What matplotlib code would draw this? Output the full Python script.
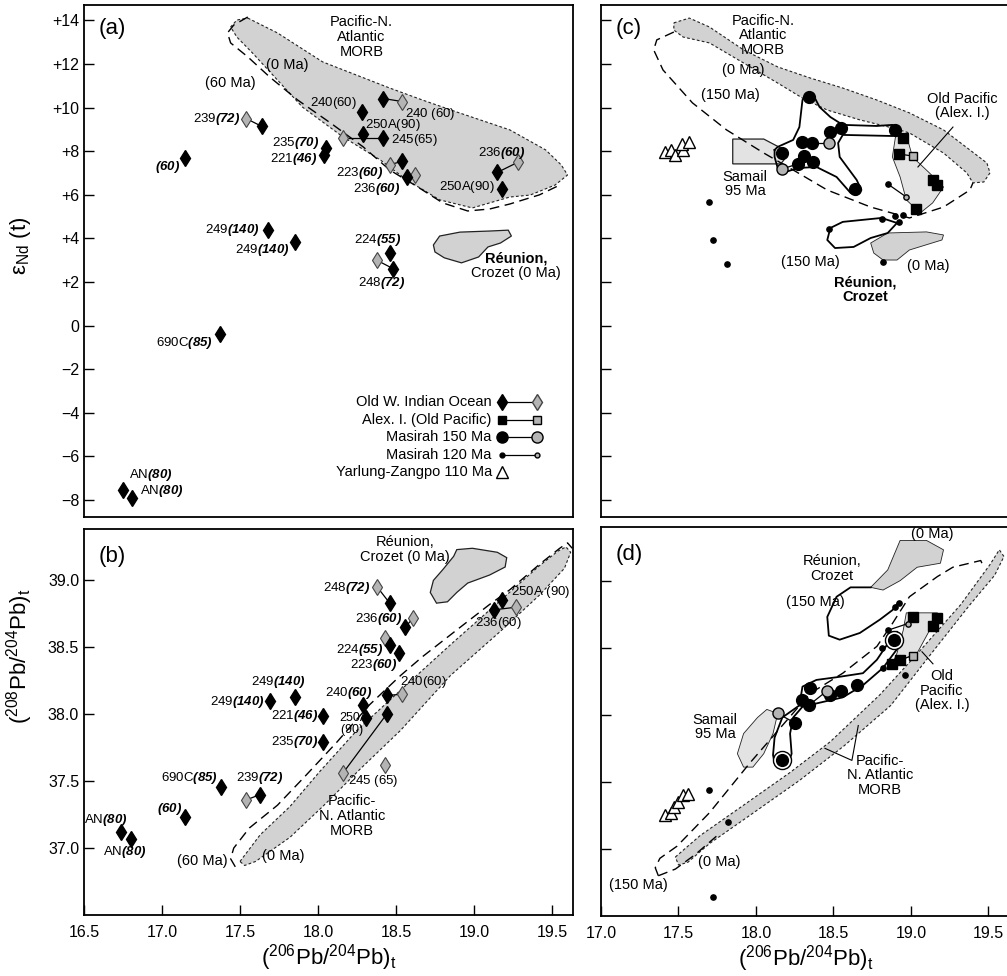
import matplotlib.pyplot as plt

plt.rcParams['font.family'] = 'Liberation Sans'
plt.rcParams['mathtext.fontset'] = 'custom'
plt.rcParams['mathtext.rm'] = 'Liberation Sans'
plt.rcParams['mathtext.it'] = 'Liberation Sans:italic'
plt.rcParams['mathtext.bf'] = 'Liberation Sans:bold'
try:
    plt.rcParams['mathtext.bfit'] = 'Liberation Sans:italic:bold'
except KeyError:
    pass
plt.rcParams['axes.linewidth'] = 1.3
plt.rcParams['xtick.direction'] = 'in'
plt.rcParams['ytick.direction'] = 'in'
plt.rcParams['xtick.major.size'] = 7
plt.rcParams['ytick.major.size'] = 7
plt.rcParams['xtick.major.width'] = 1.0
plt.rcParams['ytick.major.width'] = 1.0
plt.rcParams['xtick.labelsize'] = 11.5
plt.rcParams['ytick.labelsize'] = 11.5

#########################################
#                 data                  #
#########################################
# --- panel (a): eNd vs 206Pb/204Pb, Old W. Indian Ocean ---
a_black_x = [18.42, 18.28, 17.64, 17.15, 18.05, 18.04, 18.29, 18.42, 18.54, 18.57,
             19.15, 19.18, 17.68, 17.85, 18.46, 18.48, 17.37, 16.75, 16.81]
a_black_y = [10.42, 9.78, 9.14, 7.67, 8.17, 7.81, 8.77, 8.63, 7.53, 6.80,
             7.03, 6.29, 4.37, 3.82, 3.31, 2.62, -0.40, -7.56, -7.93]
a_gray_x = [18.54, 17.54, 18.16, 18.46, 18.62, 19.28, 18.38]
a_gray_y = [10.28, 9.50, 8.63, 7.39, 6.89, 7.49, 2.99]
a_ties = [(0, 0), (2, 1), (7, 2), (8, 3), (9, 4), (10, 5), (15, 6)]

a_morb_x = [17.55, 17.74, 18.03, 18.46, 18.67, 18.89, 19.23, 19.46, 19.56, 19.60, 19.52, 19.36,
            19.23, 18.99, 18.78, 18.57, 18.40, 18.16, 17.90, 17.74, 17.58, 17.48, 17.44, 17.48]
a_morb_y = [14.11, 13.43, 12.10, 10.90, 10.35, 9.80, 8.98, 8.06, 7.37, 6.91, 6.45, 5.99,
            5.90, 5.40, 5.77, 6.68, 7.60, 8.66, 10.03, 11.27, 12.51, 13.24, 13.70, 14.02]
a_env_x = [17.55, 17.46, 17.42, 17.44, 17.55, 17.69, 17.87, 18.08, 18.29, 18.46, 18.64,
           18.80, 18.96, 19.10, 19.23, 19.42, 19.55]
a_env_y = [14.16, 13.79, 13.43, 12.97, 12.33, 11.41, 10.35, 9.30, 8.20, 7.14, 6.36,
           5.63, 5.26, 5.35, 5.58, 6.00, 6.45]
a_reu_x = [18.74, 18.78, 18.91, 19.10, 19.22, 19.24, 19.17, 19.09, 19.03, 18.92, 18.81, 18.75]
a_reu_y = [3.70, 4.11, 4.29, 4.34, 4.38, 4.11, 3.79, 3.61, 3.15, 2.88, 3.11, 3.38]

a_labels = [
    (18.56, 9.71, '240 ', '60', False, 'left'),
    (18.25, 10.22, '240', '60', False, 'right'),
    (18.30, 9.21, '250A', '90', False, 'left'),
    (18.47, 8.52, '245', '65', False, 'left'),
    (17.50, 9.48, '239', '72', True, 'right'),
    (17.115, 7.28, '', '60', True, 'right'),
    (18.006, 8.36, '235', '70', True, 'right'),
    (17.994, 7.66, '221', '46', True, 'right'),
    (18.417, 7.00, '223', '60', True, 'right'),
    (18.526, 6.27, '236', '60', True, 'right'),
    (19.026, 7.92, '236', '60', True, 'left'),
    (19.135, 6.36, '250A', '90', False, 'right'),
    (17.628, 4.39, '249', '140', True, 'right'),
    (17.821, 3.47, '249', '140', True, 'right'),
    (18.385, 3.93, '224', '55', True, 'center'),
    (18.41, 1.96, '248', '72', True, 'center'),
    (17.327, -0.79, '690C', '85', True, 'right'),
    (16.79, -6.86, 'AN', '80', True, 'left'),
    (16.86, -7.60, 'AN', '80', True, 'left'),
]

legend_names = ['Old W. Indian Ocean', 'Alex. I. (Old Pacific)', 'Masirah 150 Ma',
                'Masirah 120 Ma', 'Yarlung-Zangpo 110 Ma']

# --- panel (b): 208Pb/204Pb vs 206Pb/204Pb ---
b_black_x = [18.46, 18.56, 18.46, 18.52, 17.85, 17.69, 18.44, 18.29, 18.03, 18.31,
             18.44, 18.03, 17.38, 17.63, 17.15, 16.74, 16.80, 19.18, 19.13]
b_black_y = [38.83, 38.65, 38.52, 38.46, 38.13, 38.10, 38.14, 38.07, 37.99, 37.97,
             38.00, 37.79, 37.46, 37.40, 37.23, 37.12, 37.07, 38.85, 38.78]
b_gray_x = [18.38, 18.61, 18.43, 18.54, 18.16, 18.43, 17.54, 19.27]
b_gray_y = [38.95, 38.72, 38.57, 38.15, 37.56, 37.62, 37.36, 38.80]
b_ties = [(0, 0), (1, 1), (2, 2), (6, 3), (10, 4), (13, 6), (18, 7)]

b_morb_x = [17.50, 17.63, 17.82, 18.01, 18.25, 18.53, 18.85, 19.17, 19.42, 19.54, 19.59,
            19.62, 19.58, 19.42, 19.17, 18.85, 18.53, 18.27, 18.03, 17.82, 17.60, 17.53]
b_morb_y = [36.90, 37.10, 37.31, 37.57, 37.88, 38.18, 38.52, 38.85, 39.11, 39.22, 39.25,
            39.21, 39.09, 38.89, 38.62, 38.29, 37.88, 37.59, 37.31, 37.08, 36.90, 36.87]
b_env_x = [17.47, 17.44, 17.46, 17.56, 17.74, 17.92, 18.12, 18.33, 18.53, 18.67, 18.89,
           19.10, 19.23, 19.42, 19.55, 19.60, 19.63]
b_env_y = [36.86, 36.92, 37.00, 37.15, 37.32, 37.54, 37.79, 38.07, 38.29, 38.43, 38.63,
           38.82, 38.93, 39.12, 39.24, 39.28, 39.24]
b_reu_x = [18.72, 18.74, 18.80, 18.87, 18.89, 18.99, 19.15, 19.21, 19.20, 19.10, 18.96,
           18.89, 18.83, 18.76]
b_reu_y = [38.91, 39.00, 39.08, 39.18, 39.23, 39.24, 39.21, 39.17, 39.10, 39.04, 38.98,
           38.91, 38.84, 38.83]

b_labels = [
    (18.333, 38.94, '248', '72', True, 'right'),
    (18.538, 38.71, '236', '60', True, 'right'),
    (18.417, 38.48, '224', '55', True, 'right'),
    (18.506, 38.37, '223', '60', True, 'right'),
    (17.744, 38.24, '249', '140', True, 'center'),
    (17.660, 38.09, '249', '140', True, 'right'),
    (18.346, 38.16, '240', '60', True, 'right'),
    (18.526, 38.24, '240', '60', False, 'left'),
    (18.00, 37.99, '221', '46', True, 'right'),
    (18.00, 37.79, '235', '70', True, 'right'),
    (18.192, 37.50, '245 ', '65', False, 'left'),
    (17.359, 37.52, '690C', '85', True, 'right'),
    (17.628, 37.52, '239', '72', True, 'center'),
    (17.128, 37.29, '', '60', True, 'right'),
    (16.782, 37.21, 'AN', '80', True, 'right'),
    (16.622, 36.97, 'AN', '80', True, 'left'),
    (19.237, 38.91, '250A ', '90', False, 'left'),
    (19.006, 38.68, '236', '60', False, 'left'),
]

# --- panel (c): eNd vs 206Pb/204Pb, Tethyan / Pacific ---
c_morb_x = [17.47, 17.57, 17.70, 17.92, 18.14, 18.35, 18.56, 18.78, 18.99, 19.21, 19.38, 19.49,
            19.51, 19.47, 19.40, 19.36, 19.21, 18.99, 18.88, 18.67, 18.46, 18.30, 18.14, 17.92,
            17.70, 17.53, 17.47]
c_morb_y = [13.89, 14.11, 13.70, 12.65, 11.87, 11.36, 10.90, 10.35, 9.76, 8.98, 8.06, 7.46,
            7.01, 6.59, 6.55, 7.01, 7.92, 8.84, 9.07, 9.44, 9.89, 10.44, 11.13, 12.05,
            12.97, 13.24, 13.56]
c_env_x = [17.47, 17.36, 17.34, 17.40, 17.59, 17.81, 18.05, 18.24, 18.46, 18.74, 18.99,
           19.21, 19.38, 19.40]
c_env_y = [13.47, 13.11, 12.65, 11.73, 10.22, 8.98, 7.92, 7.14, 6.22, 5.44, 4.94,
           5.44, 6.22, 6.55]
c_samail_x = [17.85, 18.05, 18.16, 18.19, 18.16, 17.85]
c_samail_y = [8.56, 8.56, 8.15, 7.69, 7.42, 7.42]
c_m150_env_x = [18.12, 18.14, 18.24, 18.28, 18.30, 18.33, 18.37, 18.41, 18.48, 18.56, 18.78,
                18.88, 18.93, 18.93, 18.88, 18.56, 18.53, 18.54, 18.65, 18.68, 18.65, 18.61,
                18.52, 18.39, 18.27, 18.17, 18.14, 18.12]
c_m150_env_y = [8.06, 8.20, 8.52, 9.11, 10.35, 10.67, 10.58, 10.03, 9.57, 9.21, 9.16,
                9.21, 9.07, 8.84, 8.70, 8.75, 8.38, 7.74, 6.68, 6.22, 6.00, 6.09,
                6.82, 7.28, 7.23, 7.00, 7.23, 7.74]
c_op_x = [18.90, 18.97, 19.01, 19.12, 19.21, 19.14, 19.06, 18.97, 18.93, 18.88]
c_op_y = [8.66, 8.75, 7.74, 7.00, 6.36, 5.63, 5.17, 5.77, 6.82, 7.74]
c_m120_env_x = [18.81, 18.56, 18.48, 18.46, 18.51, 18.63, 18.74, 18.85, 18.91]
c_m120_env_y = [4.94, 4.76, 4.48, 3.93, 3.56, 3.61, 4.02, 4.25, 4.71]
c_reu_x = [18.74, 18.85, 19.10, 19.21, 19.20, 18.99, 18.91, 18.82, 18.76]
c_reu_y = [3.79, 4.25, 4.30, 4.16, 3.93, 3.47, 3.01, 3.01, 3.33]

c_m150_x = [18.34, 18.30, 18.36, 18.48, 18.55, 18.17, 18.31, 18.37, 18.27, 18.64, 18.90]
c_m150_y = [10.49, 8.43, 8.38, 8.89, 9.07, 7.92, 7.78, 7.51, 7.42, 6.27, 8.98]
c_m150g_x = [18.47, 18.17]
c_m150g_y = [8.38, 7.19]
c_m150_ties = [(2, 0), (8, 1)]
c_alex_x = [18.95, 18.92, 19.14, 19.17, 19.03]
c_alex_y = [8.61, 7.88, 6.68, 6.45, 5.35]
c_alexg_x = [19.01]
c_alexg_y = [7.78]
c_alex_ties = [(1, 0)]
c_m120_x = [18.85, 18.81, 18.90, 18.95, 18.92, 18.47, 18.82, 17.70, 17.72, 17.81]
c_m120_y = [6.50, 4.89, 5.03, 5.08, 4.76, 4.44, 2.92, 5.67, 3.93, 2.83]
c_m120g_x = [18.97]
c_m120g_y = [5.90]
c_m120_ties = [(0, 0)]
c_yz_x = [17.41, 17.45, 17.48, 17.53, 17.52, 17.57]
c_yz_y = [7.97, 8.06, 7.83, 8.06, 8.33, 8.43]
c_lead_x = [19.045, 19.271]
c_lead_y = [7.28, 9.11]

# --- panel (d): 208Pb/204Pb vs 206Pb/204Pb, Tethyan / Pacific ---
d_morb_x = [17.48, 17.64, 17.90, 18.22, 18.48, 18.80, 19.06, 19.32, 19.51, 19.57, 19.60,
            19.54, 19.38, 19.12, 18.87, 18.57, 18.28, 17.96, 17.70, 17.56, 17.50]
d_morb_y = [36.94, 37.10, 37.31, 37.57, 37.80, 38.15, 38.48, 38.82, 39.12, 39.23, 39.18,
            39.04, 38.82, 38.44, 38.07, 37.77, 37.51, 37.25, 37.04, 36.90, 36.88]
d_env_x = [17.37, 17.35, 17.38, 17.49, 17.70, 17.96, 18.14, 18.35, 18.56, 18.78, 18.88,
           18.99, 19.17, 19.27, 19.45, 19.47]
d_env_y = [36.80, 36.86, 36.93, 37.02, 37.27, 37.64, 37.88, 38.16, 38.31, 38.51, 38.68,
           38.88, 39.03, 39.10, 39.15, 39.10]
d_env2_x = [17.37, 17.48, 17.61, 17.77]
d_env2_y = [36.80, 36.85, 36.96, 37.12]
d_reu_x = [18.74, 18.85, 18.93, 19.10, 19.21, 19.19, 19.04, 18.93, 18.82]
d_reu_y = [38.95, 39.08, 39.30, 39.30, 39.23, 39.13, 39.10, 39.00, 38.93]
d_m120_env_x = [18.74, 18.61, 18.52, 18.46, 18.47, 18.54, 18.67, 18.80, 18.88, 18.92]
d_m120_env_y = [38.95, 38.95, 38.88, 38.73, 38.59, 38.56, 38.61, 38.71, 38.78, 38.84]
d_op_x = [18.97, 19.17, 19.20, 19.12, 19.04, 18.88, 18.91, 18.95]
d_op_y = [38.76, 38.76, 38.71, 38.63, 38.46, 38.38, 38.46, 38.63]
d_m150_env_x = [18.87, 18.91, 18.94, 18.93, 18.82, 18.69, 18.56, 18.41, 18.30, 18.24, 18.22,
                18.23, 18.21, 18.17, 18.12, 18.11, 18.12, 18.17, 18.28, 18.30, 18.39, 18.52,
                18.69, 18.78, 18.85]
d_m150_env_y = [38.59, 38.62, 38.58, 38.52, 38.35, 38.22, 38.13, 38.09, 38.06, 37.98, 37.86,
                37.71, 37.64, 37.62, 37.64, 37.70, 37.83, 37.98, 38.07, 38.21, 38.26, 38.28,
                38.31, 38.41, 38.53]
d_samail_x = [18.07, 18.14, 18.11, 18.05, 17.98, 17.92, 17.88, 17.92, 18.01]
d_samail_y = [38.04, 38.01, 37.86, 37.71, 37.61, 37.61, 37.71, 37.86, 37.98]

d_m150_x = [18.89, 18.65, 18.55, 18.48, 18.35, 18.30, 18.34, 18.25, 18.17]
d_m150_y = [38.56, 38.22, 38.18, 38.15, 38.20, 38.11, 38.07, 37.94, 37.66]
d_m150g_x = [18.46, 18.14]
d_m150g_y = [38.18, 38.01]
d_m150_ties = [(6, 0), (7, 1)]
d_ringed = [0, 8]
d_alex_x = [19.01, 19.17, 19.14, 18.88, 18.93]
d_alex_y = [38.73, 38.72, 38.66, 38.38, 38.41]
d_alexg_x = [19.01]
d_alexg_y = [38.44]
d_alex_ties = [(4, 0)]
d_m120_x = [18.90, 18.92, 18.85, 18.81, 18.82, 18.96, 17.70, 17.82, 17.72]
d_m120_y = [38.80, 38.83, 38.63, 38.50, 38.35, 38.30, 37.44, 37.20, 36.64]
d_m120g_x = [18.98]
d_m120g_y = [38.68]
d_m120_ties = [(2, 0)]
d_yz_x = [17.41, 17.45, 17.47, 17.50, 17.53, 17.56]
d_yz_y = [37.25, 37.27, 37.31, 37.35, 37.40, 37.41]
d_lead_x = [19.071, 19.142]
d_lead_y = [38.47, 38.38]
d_morb_lead_x = [18.445, 18.619, 18.66]
d_morb_lead_y = [37.75, 37.66, 37.92]

# ticks
nd_ticks = [14, 12, 10, 8, 6, 4, 2, 0, -2, -4, -6, -8]
nd_ticklabels = ['+14', '+12', '+10', '+8', '+6', '+4', '+2', '0',
                 '\u22122', '\u22124', '\u22126', '\u22128']
pb8_ticks = [37.0, 37.5, 38.0, 38.5, 39.0]
pb6_ticks_left = [16.5, 17.0, 17.5, 18.0, 18.5, 19.0, 19.5]
pb6_ticks_right = [17.0, 17.5, 18.0, 18.5, 19.0, 19.5]

#########################################
#               styles                  #
#########################################
MORB_FC = '#d2d2d2'
SPECK_FC = '#e3e3e3'
GRAY_FC = '#b4b4b4'
SHORT_DASH = (0, (2.5, 2))
LONG_DASH = (0, (7, 4))
DIA_MS = 8.5
LAB_FS = 9.5


def field(ax, xs, ys, fc, ls=SHORT_DASH, lw=0.8):
    ax.fill(xs, ys, facecolor=fc, edgecolor='#222222', linestyle=ls, linewidth=lw, zorder=1)


def outline(ax, xs, ys, closed=False, ls='-', lw=1.3):
    if closed:
        xs = list(xs) + [xs[0]]
        ys = list(ys) + [ys[0]]
    ax.plot(xs, ys, color='k', linestyle=ls, linewidth=lw, zorder=2)


def ties(ax, bx, by, gx, gy, pairs):
    for i, j in pairs:
        ax.plot([bx[i], gx[j]], [by[i], gy[j]], color='k', lw=0.9, zorder=2)


def diamonds(ax, bx, by, gx, gy):
    ax.plot(gx, gy, 'd', ms=DIA_MS - 0.5, mfc=GRAY_FC, mec='#444444', mew=0.8, zorder=3)
    ax.plot(bx, by, 'd', ms=DIA_MS, color='k', zorder=4)


def sample_label(ax, x, y, num, age, bold, ha, va='center'):
    if bold:
        s = num + r'$\mathbfit{(' + age + r')}$'
    else:
        s = num + r'$\mathit{(' + age + r')}$'
    ax.text(x, y, s, ha=ha, va=va, fontsize=LAB_FS, zorder=5)


def note(ax, x, y, s, bold=False, ha='center'):
    ax.text(x, y, s, ha=ha, va='center', fontsize=10.5, linespacing=1.05,
            fontweight='bold' if bold else 'normal', zorder=5)


W, H = 1007, 976
fig = plt.figure(figsize=(W / 100, H / 100), dpi=100)
ax_a = fig.add_axes([84 / W, 1 - 517 / H, 489 / W, 512 / H])
ax_b = fig.add_axes([84 / W, 1 - 915 / H, 489 / W, 386 / H])
ax_c = fig.add_axes([601 / W, 1 - 517 / H, 409 / W, 512 / H])
ax_d = fig.add_axes([601 / W, 1 - 916 / H, 409 / W, 389 / H])

# ---------------- panel (a) ----------------
ax = ax_a
field(ax, a_morb_x, a_morb_y, MORB_FC)
field(ax, a_reu_x, a_reu_y, MORB_FC, ls='-', lw=0.9)
outline(ax, a_env_x, a_env_y, ls=LONG_DASH, lw=1.0)
ties(ax, a_black_x, a_black_y, a_gray_x, a_gray_y, a_ties)
diamonds(ax, a_black_x, a_black_y, a_gray_x, a_gray_y)
for lab in a_labels:
    sample_label(ax, *lab)
note(ax, 18.28, 13.24, 'Pacific-N.\nAtlantic\nMORB')
note(ax, 17.80, 11.96, '(0 Ma)')
note(ax, 17.44, 11.13, '(60 Ma)')
note(ax, 19.27, 3.10, 'R\u00e9union,', bold=True)
note(ax, 19.27, 2.42, 'Crozet (0 Ma)')
ax.text(0.03, 0.955, '(a)', transform=ax.transAxes, fontsize=16, va='center')

# legend drawn by hand, as in the original figure
leg_y = [0.2246, 0.1895, 0.1563, 0.1211, 0.0879]
for name, yy in zip(legend_names, leg_y):
    ax.text(0.834, yy, name, transform=ax.transAxes, ha='right', va='center', fontsize=10.5)
tr = ax.transAxes
ax.plot([0.855, 0.926], [leg_y[0]] * 2, 'k-', lw=0.9, transform=tr)
ax.plot([0.855], [leg_y[0]], 'd', ms=DIA_MS, color='k', transform=tr)
ax.plot([0.926], [leg_y[0]], 'd', ms=DIA_MS - 0.5, mfc=GRAY_FC, mec='#444444', transform=tr)
ax.plot([0.855, 0.926], [leg_y[1]] * 2, 'k-', lw=0.9, transform=tr)
ax.plot([0.855], [leg_y[1]], 's', ms=6, color='k', transform=tr)
ax.plot([0.926], [leg_y[1]], 's', ms=6, mfc=GRAY_FC, mec='k', transform=tr)
ax.plot([0.855, 0.926], [leg_y[2]] * 2, 'k-', lw=0.9, transform=tr)
ax.plot([0.855], [leg_y[2]], 'o', ms=8, color='k', transform=tr)
ax.plot([0.926], [leg_y[2]], 'o', ms=8, mfc=GRAY_FC, mec='k', transform=tr)
ax.plot([0.855, 0.926], [leg_y[3]] * 2, 'k-', lw=0.9, transform=tr)
ax.plot([0.855], [leg_y[3]], 'o', ms=3.5, color='k', transform=tr)
ax.plot([0.926], [leg_y[3]], 'o', ms=3.5, mfc=GRAY_FC, mec='k', transform=tr)
ax.plot([0.855], [leg_y[4]], '^', ms=9, mfc='white', mec='k', transform=tr)

ax.set_xlim(16.5, 19.635)
ax.set_ylim(-8.78, 14.71)
ax.set_xticks([])
ax.set_yticks(nd_ticks)
ax.set_yticklabels(nd_ticklabels)
ax.set_ylabel('\u03b5$_\\mathregular{Nd}$ (t)', fontsize=16)
ax.yaxis.set_label_coords(-0.105, 0.53)

# ---------------- panel (b) ----------------
ax = ax_b
field(ax, b_morb_x, b_morb_y, MORB_FC)
field(ax, b_reu_x, b_reu_y, MORB_FC, ls='-', lw=0.9)
outline(ax, b_env_x, b_env_y, ls=LONG_DASH, lw=1.0)
ties(ax, b_black_x, b_black_y, b_gray_x, b_gray_y, b_ties)
diamonds(ax, b_black_x, b_black_y, b_gray_x, b_gray_y)
for lab in b_labels:
    sample_label(ax, *lab)
ax.text(18.14, 37.975, '250A', ha='left', va='center', fontsize=9, zorder=5)
ax.text(18.14, 37.885, r'$\mathit{(90)}$', ha='left', va='center', fontsize=9, zorder=5)
note(ax, 18.56, 39.23, 'R\u00e9union,\nCrozet (0 Ma)')
note(ax, 18.218, 37.24, 'Pacific-\nN. Atlantic\nMORB')
note(ax, 17.776, 36.94, '(0 Ma)')
note(ax, 17.256, 36.90, '(60 Ma)')
ax.text(0.03, 0.93, '(b)', transform=ax.transAxes, fontsize=16, va='center')

ax.set_xlim(16.5, 19.635)
ax.set_ylim(36.5, 39.384)
ax.set_xticks(pb6_ticks_left)
ax.set_xticklabels(['%.1f' % t for t in pb6_ticks_left])
ax.set_yticks(pb8_ticks)
ax.set_yticklabels(['%.1f' % t for t in pb8_ticks])
ax.tick_params(axis='x', pad=7)
ax.set_xlabel('($^{206}$Pb/$^{204}$Pb)$_\\mathrm{t}$', fontsize=16, labelpad=2)
ax.set_ylabel('($^{208}$Pb/$^{204}$Pb)$_\\mathrm{t}$', fontsize=16)
ax.yaxis.set_label_coords(-0.1, 0.67)

# ---------------- panel (c) ----------------
ax = ax_c
field(ax, c_morb_x, c_morb_y, MORB_FC)
field(ax, c_reu_x, c_reu_y, MORB_FC, ls='-', lw=0.6)
field(ax, c_samail_x, c_samail_y, SPECK_FC, ls='-', lw=0.9)
field(ax, c_op_x, c_op_y, SPECK_FC, ls='-', lw=0.6)
outline(ax, c_env_x, c_env_y, ls=LONG_DASH, lw=1.0)
outline(ax, c_m150_env_x, c_m150_env_y, closed=True)
outline(ax, c_m120_env_x, c_m120_env_y, closed=True)
ax.plot(c_lead_x, c_lead_y, 'k-', lw=0.8)
ties(ax, c_m150_x, c_m150_y, c_m150g_x, c_m150g_y, c_m150_ties)
ties(ax, c_alex_x, c_alex_y, c_alexg_x, c_alexg_y, c_alex_ties)
ties(ax, c_m120_x, c_m120_y, c_m120g_x, c_m120g_y, c_m120_ties)
ax.plot(c_m150_x, c_m150_y, 'o', ms=8.5, color='k', zorder=4)
ax.plot(c_m150g_x, c_m150g_y, 'o', ms=8, mfc=GRAY_FC, mec='k', zorder=4)
ax.plot(c_alex_x, c_alex_y, 's', ms=6.5, color='k', zorder=4)
ax.plot(c_alexg_x, c_alexg_y, 's', ms=6, mfc=GRAY_FC, mec='k', zorder=4)
ax.plot(c_m120_x, c_m120_y, 'o', ms=3.8, color='k', zorder=4)
ax.plot(c_m120g_x, c_m120g_y, 'o', ms=3.8, mfc=GRAY_FC, mec='k', zorder=4)
ax.plot(c_yz_x, c_yz_y, '^', ms=9, mfc='white', mec='k', mew=1.0, zorder=4)
note(ax, 18.045, 13.33, 'Pacific-N.\nAtlantic\nMORB')
note(ax, 17.916, 11.73, '(0 Ma)')
note(ax, 17.832, 10.58, '(150 Ma)')
note(ax, 19.33, 10.08, 'Old Pacific\n(Alex. I.)')
note(ax, 17.929, 6.50, 'Samail\n95 Ma')
note(ax, 18.348, 2.92, '(150 Ma)')
note(ax, 19.11, 2.74, '(0 Ma)')
note(ax, 18.703, 1.64, 'R\u00e9union,\nCrozet', bold=True)
ax.text(0.035, 0.955, '(c)', transform=ax.transAxes, fontsize=16, va='center')

ax.set_xlim(17.0, 19.639)
ax.set_ylim(-8.78, 14.71)
ax.set_xticks([])
ax.set_yticks(nd_ticks)
ax.set_yticklabels([])

# ---------------- panel (d) ----------------
ax = ax_d
field(ax, d_morb_x, d_morb_y, MORB_FC)
field(ax, d_reu_x, d_reu_y, MORB_FC, ls='-', lw=0.6)
field(ax, d_samail_x, d_samail_y, SPECK_FC, ls='-', lw=0.6)
field(ax, d_op_x, d_op_y, SPECK_FC, ls='-', lw=0.6)
outline(ax, d_env_x, d_env_y, ls=LONG_DASH, lw=1.0)
outline(ax, d_env2_x, d_env2_y, ls=LONG_DASH, lw=1.0)
outline(ax, d_m150_env_x, d_m150_env_y, closed=True)
outline(ax, d_m120_env_x, d_m120_env_y)
ax.plot(d_lead_x, d_lead_y, 'k-', lw=0.8)
ax.plot(d_morb_lead_x, d_morb_lead_y, 'k-', lw=0.8)
ties(ax, d_m150_x, d_m150_y, d_m150g_x, d_m150g_y, d_m150_ties)
ties(ax, d_alex_x, d_alex_y, d_alexg_x, d_alexg_y, d_alex_ties)
ties(ax, d_m120_x, d_m120_y, d_m120g_x, d_m120g_y, d_m120_ties)
ax.plot([d_m150_x[i] for i in d_ringed], [d_m150_y[i] for i in d_ringed], 'o', ms=13,
        mfc='white', mec='k', mew=1.0, zorder=3)
ax.plot(d_m150_x, d_m150_y, 'o', ms=8.5, color='k', zorder=4)
ax.plot(d_m150g_x, d_m150g_y, 'o', ms=8, mfc=GRAY_FC, mec='k', zorder=4)
ax.plot(d_alex_x, d_alex_y, 's', ms=6.5, color='k', zorder=4)
ax.plot(d_alexg_x, d_alexg_y, 's', ms=6, mfc=GRAY_FC, mec='k', zorder=4)
ax.plot(d_m120_x, d_m120_y, 'o', ms=3.8, color='k', zorder=4)
ax.plot(d_m120g_x, d_m120g_y, 'o', ms=3.8, mfc=GRAY_FC, mec='k', zorder=4)
ax.plot(d_yz_x, d_yz_y, '^', ms=9, mfc='white', mec='k', mew=1.0, zorder=4)
note(ax, 19.135, 39.35, '(0 Ma)')
note(ax, 18.49, 39.09, 'R\u00e9union,\nCrozet')
note(ax, 18.381, 38.84, '(150 Ma)')
note(ax, 19.20, 38.18, 'Old\nPacific\n(Alex. I.)')
note(ax, 17.735, 37.91, 'Samail\n95 Ma')
note(ax, 18.80, 37.55, 'Pacific-\nN. Atlantic\nMORB')
note(ax, 17.761, 36.90, '(0 Ma)')
note(ax, 17.239, 36.73, '(150 Ma)')
ax.text(0.035, 0.93, '(d)', transform=ax.transAxes, fontsize=16, va='center')

ax.set_xlim(17.0, 19.639)
ax.set_ylim(36.5, 39.40)
ax.set_xticks(pb6_ticks_right)
ax.set_xticklabels(['%.1f' % t for t in pb6_ticks_right])
ax.set_yticks(pb8_ticks)
ax.set_yticklabels([])
ax.tick_params(axis='x', pad=7)
ax.set_xlabel('($^{206}$Pb/$^{204}$Pb)$_\\mathrm{t}$', fontsize=16, labelpad=2)

plt.savefig('out.png', dpi=100)
